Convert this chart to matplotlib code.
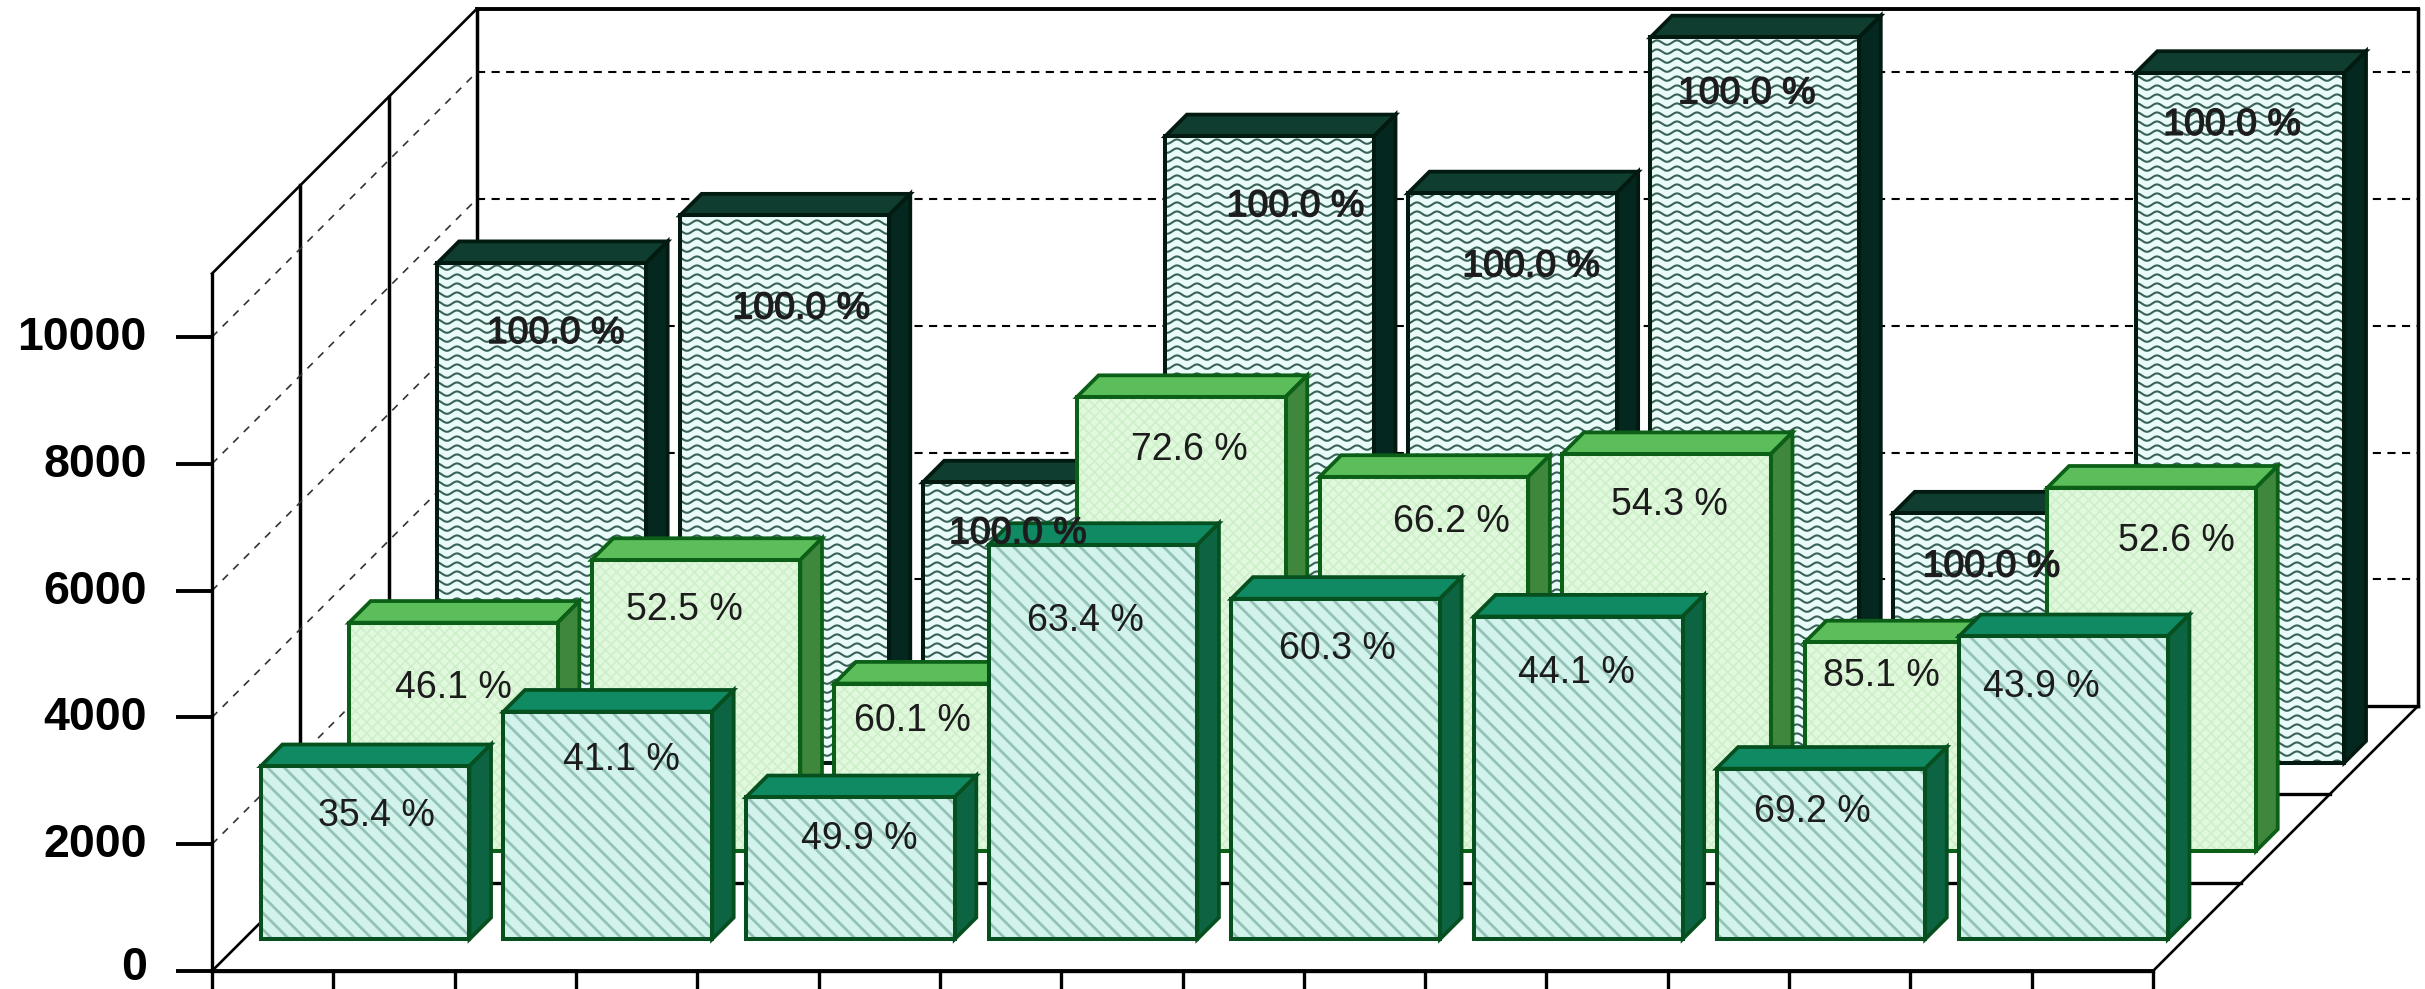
import numpy as np
import matplotlib
matplotlib.use("Agg")
import matplotlib.pyplot as plt
import matplotlib.patheffects as pe
from matplotlib.lines import Line2D
from matplotlib.patches import Polygon
from matplotlib.transforms import ScaledTranslation

plt.rcParams['font.family'] = ['Liberation Sans', 'DejaVu Sans']

# Values
back_values = [7880, 8630, 4420, 9880, 8980, 11440, 3930, 10880]
mid_values = [3600, 4590, 2640, 7160, 5900, 6260, 3290, 5730]
front_values = [2730, 3590, 2240, 6220, 5370, 5090, 2690, 4780]

back_labels = ["100.0 %"] * 8
mid_labels = ["46.1 %", "52.5 %", "60.1 %", "72.6 %", "66.2 %", "54.3 %", "85.1 %", "52.6 %"]
front_labels = ["35.4 %", "41.1 %", "49.9 %", "63.4 %", "60.3 %", "44.1 %", "69.2 %", "43.9 %"]

y_ticks = [0, 2000, 4000, 6000, 8000, 10000]

# Label shift from the top centre of each bar, in pixels
back_shift = [(14, 70), (17, 93), (-9, 51), (26, 70), (19, 73), (-8, 56), (-6, 53), (-8, 52)]
mid_shift = [(0, 65), (-12, 50), (-26, 37), (8, 53), (28, 45), (3, 51), (-28, 34), (25, 53)]
front_shift = [(11, 50), (14, 48), (9, 42), (-8, 76), (2, 50), (-2, 56), (-8, 43), (-22, 51)]

W, H = 2425, 989
fig = plt.figure(figsize=(W / 100, H / 100), dpi=100, facecolor="white")
ax = fig.add_axes([212 / W, 18 / H, 1941 / W, 697.4 / H])
ax.set_xlim(0, 8)
ax.set_ylim(0, 11000)

# One depth row moves a point 88.3 px right and up
px_x = 8 / 1941
px_y = 11000 / 697.4
row_x = 88.3 * px_x
row_y = 88.3 * px_y


def project(x, z, v):
    return (x + z * row_x, v + z * row_y)


# Walls and floor
for z in [0, 1, 2, 3]:
    ax.plot([project(0, z, 0)[0], project(8, z, 0)[0]], [project(0, z, 0)[1]] * 2,
            color="black", lw=2.4, zorder=1, clip_on=False)
    if z > 0:
        ax.plot(*zip(project(0, z, 0), project(0, z, 11000)), color="black",
                lw=2.5, zorder=1, clip_on=False)
ax.plot(*zip(project(0, 0, 0), project(0, 3, 0)), color="black", lw=1.9, zorder=1, clip_on=False)
ax.plot(*zip(project(8, 0, 0), project(8, 3, 0)), color="black", lw=1.9, zorder=1, clip_on=False)
ax.plot(*zip(project(8, 3, 0), project(8, 3, 11000)), color="black", lw=2.5, zorder=1, clip_on=False)
ax.plot(*zip(project(0, 0, 11000), project(0, 3, 11000)), color="black", lw=1.9, zorder=1, clip_on=False)
ax.plot(*zip(project(0, 3, 11000), project(8, 3, 11000)), color="black", lw=2.8, zorder=1, clip_on=False)

# Dashed grid on the back and left walls
for v in y_ticks[1:]:
    ax.plot(*zip(project(0, 3, v), project(8, 3, v)), color="black", lw=1.5, ls=(0, (3.9, 3.1)),
            zorder=1, clip_on=False)
    ax.plot(*zip(project(0, 0, v), project(0, 3, v)), color="#333333", lw=1.2, ls=(0, (4.5, 4.5)),
            zorder=1, clip_on=False)


def draw_bar(i, row, value, style, z):
    left, right = i + 0.07, i + 0.93
    z0, z1 = row + 0.36, row + 0.605
    edge = style["edge"]
    front = [project(left, z0, 0), project(right, z0, 0), project(right, z0, value), project(left, z0, value)]
    top = [project(left, z0, value), project(right, z0, value), project(right, z1, value), project(left, z1, value)]
    side = [project(right, z0, 0), project(right, z1, 0), project(right, z1, value), project(right, z0, value)]
    ax.add_patch(Polygon(top, closed=True, fc=style["top"], ec=edge, lw=2.7, zorder=z, clip_on=False))
    ax.add_patch(Polygon(side, closed=True, fc=style["side"], ec=edge, lw=2.7, zorder=z, clip_on=False))

    plt.rcParams['hatch.linewidth'] = style.get("hatch_lw", 1.0)
    face = Polygon(front, closed=True, fc=style["face"], ec=style["hatch_color"], lw=0,
                   hatch=style.get("hatch"), zorder=z, clip_on=False)
    ax.add_patch(face)

    if style.get("wave"):
        # wavy fill pattern, clipped to the front face
        xs = np.linspace(front[0][0], front[1][0], 300)
        for level in np.arange(0, value + 130, 9 * px_y):
            ys = front[0][1] + level + 2.2 * px_y * np.sin(2 * np.pi * xs / (20 * px_x))
            line = Line2D(xs, ys, color=style["hatch_color"], lw=1.5, zorder=z)
            ax.add_line(line)
            line.set_clip_box(None)
            line.set_clip_path(face)

    ax.add_patch(Polygon(front, closed=True, fill=False, ec=edge, lw=2.9, zorder=z, clip_on=False))
    return (left + right) / 2 + z0 * row_x, value + z0 * row_y


back_style = dict(face="#e9fbf8", top="#0f3e30", side="#04281f", edge="#021a10",
                  hatch_color="#3a6259", wave=True)
mid_style = dict(face="#e0f8dc", top="#5cbe5a", side="#3f873d", edge="#0b5f17",
                 hatch_color="#cdeec9", hatch="xxx", hatch_lw=1.1)
front_style = dict(face="#d2f3ec", top="#0f8a63", side="#0d6443", edge="#06501f",
                   hatch_color="#95c2b8", hatch="\\\\", hatch_lw=2.0)

rows = [
    (2, back_values, back_labels, back_shift, back_style, 3),
    (1, mid_values, mid_labels, mid_shift, mid_style, 4),
    (0, front_values, front_labels, front_shift, front_style, 5),
]

for row, values, labels, shifts, style, z in rows:
    for i, value in enumerate(values):
        cx, cy = draw_bar(i, row, value, style, z)
        effects = [pe.withStroke(linewidth=1.0, foreground="#222222")] if row == 2 else None
        ax.annotate(labels[i], xy=(cx, cy), xytext=(shifts[i][0], -shifts[i][1]),
                    textcoords="offset pixels", ha="center", va="center", fontsize=27,
                    color="#1c1c1c", zorder=10, annotation_clip=False, path_effects=effects)

# Axes
for name in ["top", "right"]:
    ax.spines[name].set_visible(False)
ax.spines["left"].set_linewidth(2.4)
ax.spines["bottom"].set_linewidth(2.8)
ax.patch.set_alpha(0)
ax.set_yticks(y_ticks)
ax.set_xticks(np.arange(0, 8.5, 0.5))
ax.set_xticklabels([])
ax.tick_params(axis="y", length=26, width=2.8, pad=21)
ax.tick_params(axis="x", length=26, width=2.4)
for tick, label in zip(y_ticks, ax.get_yticklabels()):
    # the 0 sits right at the bottom edge, lift it a bit more so it stays whole
    up = ScaledTranslation(0, (8 if tick == 0 else 4) / 100, fig.dpi_scale_trans)
    label.set_fontsize(33.5)
    label.set_fontweight("bold")
    label.set_transform(label.get_transform() + up)

fig.savefig("out.png", dpi=100)
